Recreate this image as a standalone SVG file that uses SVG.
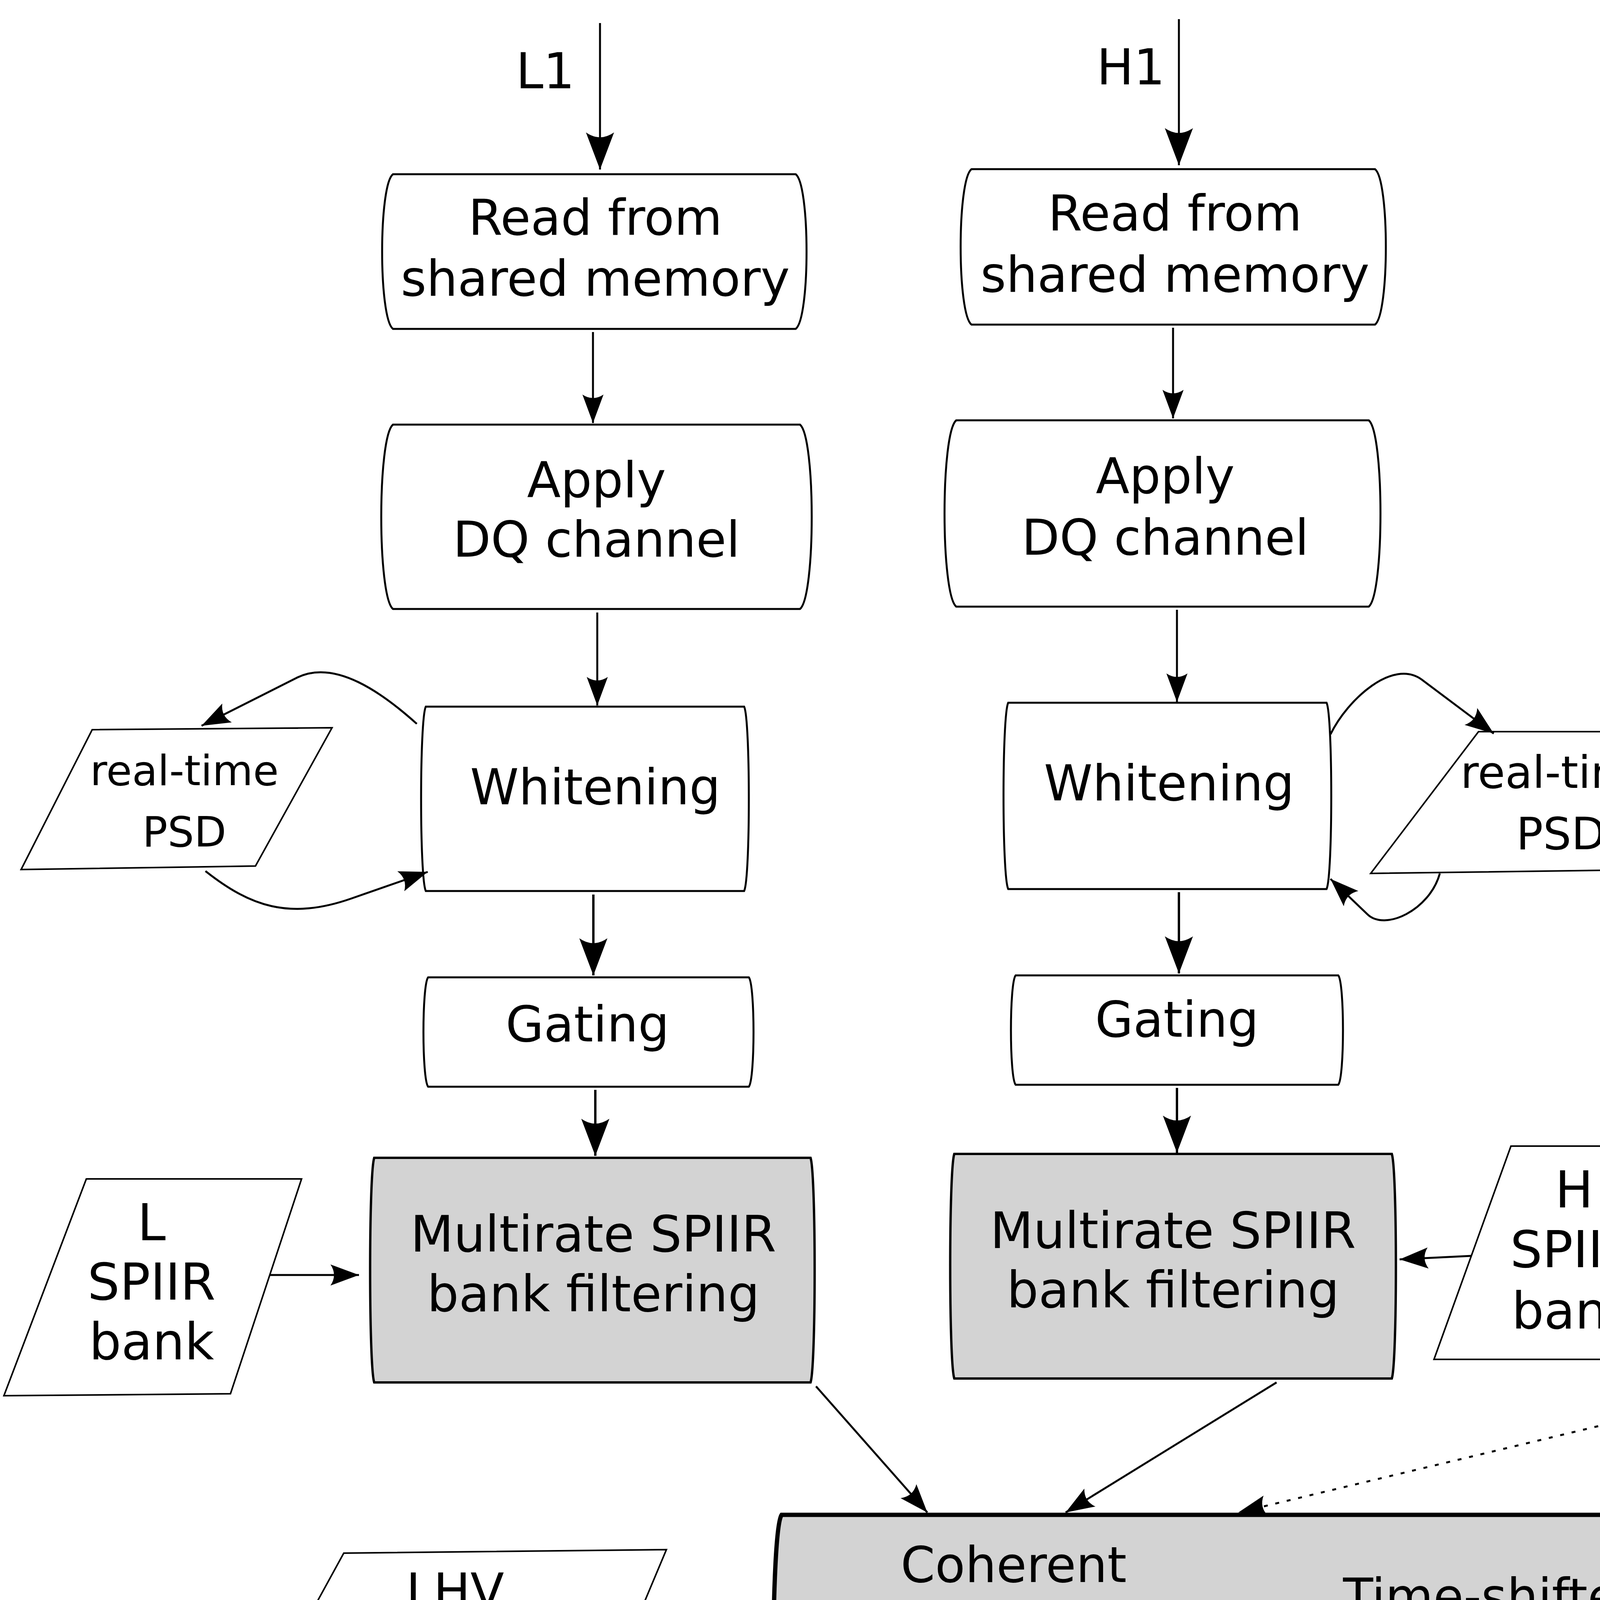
<svg xmlns="http://www.w3.org/2000/svg" width="6600" height="7711" viewBox="0 0 6600 7711">
<defs>
<style>
.box{fill:#fff;stroke:#000;stroke-width:5}
.gray{fill:#d3d3d3;stroke:#000;stroke-width:6}
.para{fill:#fff;stroke:#000;stroke-width:4}
.c{fill:none;stroke:#000;stroke-width:5}
.cb{fill:none;stroke:#000;stroke-width:6}
.dot{stroke-dasharray:10 20}
.dotbox{fill:#fff;stroke:#000;stroke-width:5;stroke-dasharray:6 14}
text{font-family:"DejaVu Sans","Liberation Sans",sans-serif;font-size:126px;text-anchor:middle;fill:#000}
.st{text-anchor:start}
.math{font-family:"Liberation Serif","DejaVu Serif",serif;text-anchor:start}
</style>
<marker id="a" markerUnits="userSpaceOnUse" markerWidth="200" markerHeight="200" orient="auto" refX="0" refY="0" style="overflow:visible">
<path d="M0,0 L-73,-27 Q-55,0 -73,27 Z" fill="#000"/>
</marker>
<marker id="ab" markerUnits="userSpaceOnUse" markerWidth="200" markerHeight="200" orient="auto" refX="0" refY="0" style="overflow:visible">
<path d="M0,0 L-95,-36 Q-70,0 -95,36 Z" fill="#000"/>
</marker>
</defs>
<rect width="6600" height="7711" fill="#fff"/>

<g id="label-L1"><text x="1396" y="226">L1</text></g>
<g id="label-H1"><text x="2895" y="216">H1</text></g>
<g id="label-V1"><text x="4876" y="162">V1</text></g>

<g id="read-L1">
<path class="box" d="M1006,446 H2037 C2074,474 2074,814 2037,842 H1006 C969,814 969,474 1006,446 Z"/>
<text x="1524" y="601">Read from</text><text x="1524" y="757">shared memory</text>
</g>
<g id="apply-L1">
<path class="box" d="M1006,1087 H2048 C2088,1120 2088,1526 2048,1559 H1006 C966,1526 966,1120 1006,1087 Z"/>
<text x="1527" y="1273">Apply</text><text x="1527" y="1425">DQ channel</text>
</g>
<g id="whitening-L1">
<path class="box" d="M1090,1809 H1905 C1921,1842 1921,2248 1905,2281 H1090 C1074,2248 1074,1842 1090,1809 Z"/>
<text x="1524" y="2059">Whitening</text>
</g>
<g id="psd-L1">
<path class="para" d="M236,1868 L850,1863 L654,2217 L54,2226 Z"/>
<text x="472" y="2010" style="font-size:107px">real-time</text><text x="472" y="2167" style="font-size:107px">PSD</text>
</g>
<g id="gating-L1">
<path class="box" d="M1096,2502 H1917 C1933,2522 1933,2762 1917,2782 H1096 C1080,2762 1080,2522 1096,2502 Z"/>
<text x="1504" y="2666">Gating</text>
</g>
<g id="multirate-L1">
<path class="gray" d="M958,2964 H2075 C2089,3004 2089,3499 2075,3539 H958 C944,3499 944,3004 958,2964 Z"/>
<text x="1519" y="3204" style="font-size:128px">Multirate SPIIR</text><text x="1519" y="3357" style="font-size:128px">bank filtering</text>
</g>
<g id="bank-L">
<path class="para" d="M221,3018 L772,3018 L590,3568 L10,3573 Z"/>
<text x="388" y="3175" style="font-size:130px">L</text><text x="388" y="3327" style="font-size:130px">SPIIR</text><text x="388" y="3480" style="font-size:130px">bank</text>
</g>

<g id="read-H1">
<path class="box" d="M2487,433 H3520 C3557,461 3557,803 3520,831 H2487 C2450,803 2450,461 2487,433 Z"/>
<text x="3008" y="590">Read from</text><text x="3008" y="747">shared memory</text>
</g>
<g id="apply-H1">
<path class="box" d="M2448,1076 H3504 C3544,1109 3544,1520 3504,1553 H2448 C2408,1520 2408,1109 2448,1076 Z"/>
<text x="2983" y="1263">Apply</text><text x="2983" y="1420">DQ channel</text>
</g>
<g id="whitening-H1">
<path class="box" d="M2581,1799 H3396 C3412,1832 3412,2243 3396,2276 H2581 C2565,2243 2565,1832 2581,1799 Z"/>
<text x="2993" y="2049">Whitening</text>
</g>
<g id="psd-H1">
<path class="para" d="M3785,1873 L4365,1873 L4183,2227 L3509,2236 Z"/>
<text x="3996" y="2017" style="font-size:114px">real-time</text><text x="3996" y="2174" style="font-size:114px">PSD</text>
</g>
<g id="gating-H1">
<path class="box" d="M2600,2497 H3426 C3442,2517 3442,2757 3426,2777 H2600 C2584,2757 2584,2517 2600,2497 Z"/>
<text x="3013" y="2654">Gating</text>
</g>
<g id="multirate-H1">
<path class="gray" d="M2443,2954 H3563 C3577,2994 3577,3489 3563,3529 H2443 C2429,3489 2429,2994 2443,2954 Z"/>
<text x="3003" y="3195" style="font-size:128px">Multirate SPIIR</text><text x="3003" y="3347" style="font-size:128px">bank filtering</text>
</g>
<g id="bank-H">
<path class="para" d="M3868,2934 L4399,2934 L4207,3480 L3671,3480 Z"/>
<text x="4030" y="3091" style="font-size:130px">H</text><text x="4030" y="3244" style="font-size:130px">SPIIR</text><text x="4030" y="3401" style="font-size:130px">bank</text>
</g>

<g id="read-V1">
<path class="box" d="M4477,388 H5515 C5547,416 5547,755 5515,783 H4477 C4445,755 4445,416 4477,388 Z"/>
<text x="5003" y="540">Read from</text><text x="5003" y="695">shared memory</text>
</g>
<g id="apply-V1">
<path class="dotbox" d="M4519,1031 H5431 C5461,1064 5461,1471 5431,1504 H4519 C4489,1471 4489,1064 4519,1031 Z"/>
<text x="4975" y="1217">Apply</text><text x="4975" y="1372">DQ channel</text>
</g>
<g id="whitening-V1">
<path class="box" d="M4571,1755 H5387 C5403,1788 5403,2193 5387,2226 H4571 C4555,2193 4555,1788 4571,1755 Z"/>
<text x="4989" y="2025">Whitening</text>
</g>
<g id="psd-V1">
<path class="para" d="M5844,1828 L6532,1823 L6301,2182 L5598,2192 Z"/>
<text x="6109" y="1976" style="font-size:123px">real-time</text><text x="6109" y="2133" style="font-size:123px">PSD</text>
</g>
<g id="gating-V1">
<path class="box" d="M4591,2448 H5411 C5427,2468 5427,2703 5411,2723 H4591 C4575,2703 4575,2468 4591,2448 Z"/>
<text x="4999" y="2610">Gating</text>
</g>
<g id="multirate-V1">
<path class="gray" d="M4433,2910 H5554 C5568,2950 5568,3445 5554,3485 H4433 C4419,3445 4419,2950 4433,2910 Z"/>
<text x="4989" y="3150" style="font-size:128px">Multirate SPIIR</text><text x="4989" y="3303" style="font-size:128px">bank filtering</text>
</g>
<g id="bank-V">
<path class="para" d="M5868,2880 L6586,2880 L6306,3426 L5662,3431 Z"/>
<text x="6129" y="3032" style="font-size:130px">V</text><text x="6129" y="3190" style="font-size:130px">SPIIR</text><text x="6129" y="3342" style="font-size:130px">bank</text>
</g>

<g id="coherent">
<path class="gray" style="stroke-width:11" d="M2001,3878 H4423 C4451,3918 4451,4570 4423,4610 H2001 C1973,4570 1973,3918 2001,3878 Z"/>
<text x="2595" y="4050">Coherent</text><text x="2595" y="4202">post-processing</text><text x="2595" y="4356">with sky</text><text x="2595" y="4512">localization</text>
<text x="3830" y="4131">Time-shifted</text><text x="3830" y="4284">events</text><text x="3830" y="4443">as background</text>
</g>
<g id="lhv-table">
<path class="para" d="M880,3976 L1706,3967 L1465,4541 L565,4551 Z"/>
<text x="1165" y="4118">LHV</text>
<text x="880" y="4290" class="math" style="font-size:165px;font-weight:bold;font-style:italic">U</text>
<text x="1048" y="4276" class="st">and</text>
<text x="1305" y="4284" class="math" style="font-size:200px;font-weight:bold;font-style:italic">τ</text>
<text x="1185" y="4428">Table</text>
</g>
<g id="async-label">
<text x="2826" y="4733" class="st" style="font-size:104px">Asynchronously</text>
<text x="2826" y="4835" class="st" style="font-size:104px">in / out</text>
</g>
<g id="background-stats">
<path class="para" d="M3654,4796 L4684,4787 L4243,5523 L3209,5533 Z"/>
<text x="3708" y="4965" class="math" style="font-size:165px;font-style:italic;font-family:'DejaVu Serif','Liberation Serif',serif">ℛ</text>
<text x="3882" y="4978" class="math" style="font-size:185px">(</text>
<text x="3925" y="4965" class="math" style="font-size:185px;font-style:italic">ρ</text>
<text x="4022" y="4998" class="math" style="font-size:135px;font-style:italic">c</text>
<text x="4098" y="4965" class="math" style="font-size:165px">,</text>
<text x="4155" y="4965" class="math" style="font-size:185px;font-style:italic">ξ</text>
<text x="4268" y="4890" class="math" style="font-size:135px">2</text>
<text x="4272" y="4998" class="math" style="font-size:135px;font-style:italic">c</text>
<text x="4368" y="4978" class="math" style="font-size:185px">)</text>
<text x="3556" y="5150" class="st">from previous</text>
<text x="3558" y="5287" class="st">background</text>
<text x="3602" y="5420" class="st">events</text>
</g>
<g id="assign-far">
<path class="box" d="M1794,5465 H3082 C3096,5505 3096,6048 3082,6088 H1794 C1780,6048 1780,5505 1794,5465 Z"/>
<text x="2438" y="5683">Assign FAR to</text><text x="2438" y="5839">foreground</text><text x="2438" y="5994">candidatess</text>
</g>
<g id="cluster">
<path class="box" d="M2029,6333 H2924 C2936,6368 2936,6854 2924,6889 H2029 C2017,6854 2017,6368 2029,6333 Z"/>
<text x="2494" y="6491">Cluster</text><text x="2494" y="6645">foreground</text><text x="2494" y="6800">candidates</text>
</g>
<g id="veto">
<path class="box" d="M1953,7120 H3016 C3028,7150 3028,7559 3016,7589 H1953 C1941,7559 1941,7150 1953,7120 Z"/>
<text x="2494" y="7328">Candidate</text><text x="2494" y="7481">veto tests</text>
</g>
<g id="database">
<path class="box" style="stroke-width:9" d="M3326,7041 H4531 C4545,7081 4545,7652 4531,7692 H3326 C3312,7652 3312,7081 3326,7041 Z"/>
<text x="3938" y="7235">Candidate and</text><text x="3938" y="7390">skymap to GW</text><text x="3938" y="7545">trigger database</text>
</g>

<g id="connectors">
<path class="c" d="M1536,59 V434" marker-end="url(#ab)"/>
<path class="c" d="M1518,850 V1083" marker-end="url(#a)"/>
<path class="c" d="M1529,1568 V1806" marker-end="url(#a)"/>
<path class="c" d="M1067,1853 C980,1775 858,1686 760,1735 L516,1858" marker-end="url(#a)"/>
<path class="c" d="M526,2230 C640,2320 740,2356 900,2300 L1095,2232" marker-end="url(#a)"/>
<path class="cb" d="M1519,2290 V2497" marker-end="url(#ab)"/>
<path class="cb" d="M1524,2790 V2959" marker-end="url(#ab)"/>
<path class="c" d="M692,3264 H919" marker-end="url(#a)"/>

<path class="c" d="M3018,49 V423" marker-end="url(#ab)"/>
<path class="c" d="M3003,839 V1071" marker-end="url(#a)"/>
<path class="c" d="M3013,1561 V1797" marker-end="url(#a)"/>
<path class="c" d="M3406,1880 C3450,1790 3566,1685 3640,1740 L3824,1878" marker-end="url(#a)"/>
<path class="c" d="M3686,2236 C3660,2330 3545,2385 3500,2340 L3406,2250" marker-end="url(#a)"/>
<path class="cb" d="M3018,2284 V2492" marker-end="url(#ab)"/>
<path class="cb" d="M3013,2785 V2951" marker-end="url(#ab)"/>
<path class="c" d="M3767,3215 L3583,3224" marker-end="url(#a)"/>

<path class="c dot" d="M5008,0 V371" marker-end="url(#ab)"/>
<path class="c dot" d="M4993,790 V1029" marker-end="url(#a)"/>
<path class="c dot" d="M5003,1512 V1752" marker-end="url(#a)"/>
<path class="c" d="M5397,1812 C5470,1740 5625,1674 5720,1710 L5957,1799" marker-end="url(#a)"/>
<path class="c" d="M5947,2197 C5880,2260 5750,2304 5650,2270 L5400,2185" marker-end="url(#a)"/>
<path class="c dot" d="M5003,2234 V2445" marker-end="url(#a)"/>
<path class="c dot" d="M4999,2731 V2908" marker-end="url(#a)"/>
<path class="c" d="M5763,3161 L5574,3175" marker-end="url(#a)"/>

<path class="c" d="M2089,3549 L2374,3872" marker-end="url(#a)"/>
<path class="c" d="M3268,3539 L2728,3872" marker-end="url(#a)"/>
<path class="c dot" d="M4704,3504 L3170,3872" marker-end="url(#a)"/>
<path class="c" d="M1595,4232 H1961" marker-end="url(#a)"/>
<path class="c" d="M3159,4246 H3399" marker-end="url(#a)"/>
<path class="c" d="M2502,4620 V5458" marker-end="url(#a)"/>
<path class="c" d="M3972,4617 V4789" marker-end="url(#a)"/>
<path class="c" d="M3932,5535 C3890,5780 3580,5870 3160,5886" marker-end="url(#a)"/>
<path class="c" d="M2494,6093 V6330" marker-end="url(#a)"/>
<path class="c" d="M2490,6893 V7117" marker-end="url(#a)"/>
<path class="c" d="M3030,7353 L3313,7343" marker-end="url(#a)"/>
</g>
</svg>
